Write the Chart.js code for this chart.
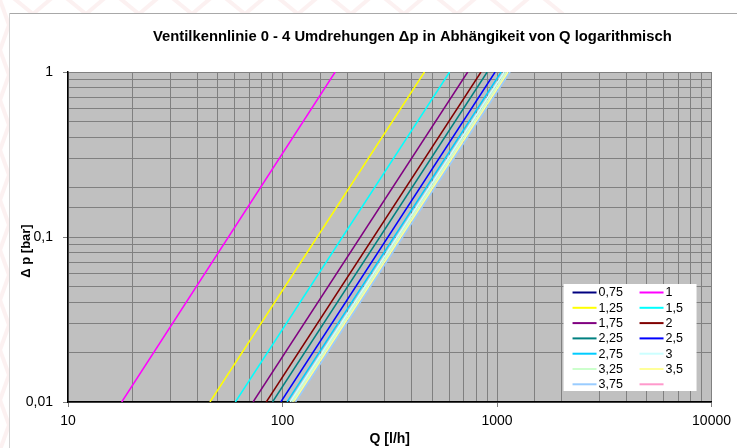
<!DOCTYPE html>
<html>
<head>
<meta charset="utf-8">
<script src="https://cdn.jsdelivr.net/npm/chart.js@4.4.1/dist/chart.umd.min.js"></script>
<style>
html, body { margin: 0; padding: 0; background: #fff; }
#wrap { position: relative; width: 737px; height: 448px; }
</style>
</head>
<body>
<div id="wrap"><canvas id="grafico"></canvas></div>
<script>
const umdrehungen = ['0,75', '1', '1,25', '1,5', '1,75', '2', '2,25', '2,5', '2,75', '3', '3,25', '3,5', '3,75', ''];
// Q [l/h] bei dp = 0,01 bar bzw. dp = 1 bar (null = nicht im Bild)
const qBei001 = [null, 17.8, 45.9, 60.3, 72.9, 84.0, 89.8, 98.2, 105, 108.5, 110.5, 112.5, 115, null];
const qBei1   = [null, 176, 459, 601, 730, 842, 900, 980, 1045, 1080, 1105, 1125, 1150, null];
const dpWerte = [0.01, 1];

const xTicks = [10, 100, 1000, 10000];
const xTickLabels = ['10', '100', '1000', '10000'];
const yTicks = [0.01, 0.1, 1];
const yTickLabels = ['0,01', '0,1', '1'];

const farben = ['#000080', '#FF00FF', '#FFFF00', '#00FFFF', '#800080', '#800000', '#008080',
                '#0000FF', '#00CCFF', '#CCFFFF', '#CCFFCC', '#FFFF99', '#99CCFF', '#FF99CC'];

const titel = 'Ventilkennlinie 0 - 4 Umdrehungen \u0394p in Abh\u00e4ngikeit von Q logarithmisch';
const yTitel = '\u0394 p [bar]';
const FONT = '"Liberation Sans", Arial, sans-serif';

function findeTick(liste, v) {
    return liste.findIndex(t => Math.abs(Math.log10(t) - Math.log10(v)) < 1e-6);
}

const datasets = umdrehungen.map((name, i) => ({
    label: name,
    data: qBei001[i] == null ? [] : [
        { x: qBei001[i], y: dpWerte[0] },
        { x: qBei1[i], y: dpWerte[1] }
    ],
    borderColor: farben[i],
    backgroundColor: farben[i],
    borderWidth: 1.5,
    pointRadius: 0,
    fill: false,
    tension: 0
}));

// Hintergrund, Rahmen, Titel und Legende
const rahmenPlugin = {
    id: 'rahmen',
    beforeDraw(chart) {
        const ctx = chart.ctx;
        const a = chart.chartArea;
        ctx.save();

        // blasses Muster am Rand
        ctx.strokeStyle = 'rgba(240,190,190,0.22)';
        ctx.lineWidth = 4;
        ctx.beginPath();
        for (let x0 = -20; x0 < 540; x0 += 53) {
            ctx.moveTo(x0, 14);
            ctx.lineTo(x0 + 26, -8);
            ctx.lineTo(x0 + 53, 14);
        }
        for (let y0 = 0; y0 < 448; y0 += 50) {
            ctx.moveTo(0, y0);
            ctx.lineTo(9, y0 + 25);
            ctx.lineTo(0, y0 + 50);
        }
        ctx.stroke();

        ctx.fillStyle = '#fff';
        ctx.fillRect(10, 14, 727, 434);
        ctx.lineWidth = 1;
        ctx.strokeStyle = '#A8A8A8';
        ctx.beginPath();
        ctx.moveTo(9, 13.5);
        ctx.lineTo(737, 13.5);
        ctx.stroke();
        ctx.strokeStyle = '#D2D2D2';
        ctx.beginPath();
        ctx.moveTo(9.5, 13);
        ctx.lineTo(9.5, 448);
        ctx.stroke();

        ctx.fillStyle = '#C0C0C0';
        ctx.fillRect(a.left, a.top, a.right - a.left, a.bottom - a.top);

        ctx.fillStyle = '#000';
        ctx.font = 'bold 14.8px ' + FONT;
        ctx.textAlign = 'left';
        ctx.textBaseline = 'middle';
        ctx.fillText(titel, 153, 37);

        ctx.font = 'bold 13px ' + FONT;
        ctx.translate(26, 251);
        ctx.rotate(-Math.PI / 2);
        ctx.textAlign = 'center';
        ctx.fillText(yTitel, 0, 0);
        ctx.restore();
    },
    afterDraw(chart) {
        const ctx = chart.ctx;
        const a = chart.chartArea;
        const bx = a.right - 148, by = a.bottom - 118;
        ctx.save();
        ctx.fillStyle = '#fff';
        ctx.fillRect(bx, by, 133, 107);
        ctx.font = '12.5px ' + FONT;
        ctx.textBaseline = 'middle';
        ctx.textAlign = 'left';
        chart.data.datasets.forEach((ds, i) => {
            const col = i % 2, row = Math.floor(i / 2);
            const lx = bx + 9 + col * 67;
            const ly = by + 8.5 + row * 15.3;
            ctx.strokeStyle = ds.borderColor;
            ctx.lineWidth = 2;
            ctx.beginPath();
            ctx.moveTo(lx, ly);
            ctx.lineTo(lx + 24, ly);
            ctx.stroke();
            ctx.fillStyle = '#000';
            ctx.fillText(ds.label, lx + 26, ly + 0.5);
        });
        ctx.restore();
    }
};

const gitterFarbe = '#808080';

new Chart(document.getElementById('grafico'), {
    type: 'line',
    data: { datasets: datasets },
    options: {
        responsive: true,
        maintainAspectRatio: false,
        animation: false,
        layout: { padding: { left: 0, right: 25, top: 72, bottom: 0 } },
        plugins: {
            legend: { display: false },
            title: { display: false },
            tooltip: { enabled: false }
        },
        scales: {
            x: {
                type: 'logarithmic',
                min: 10,
                max: 10000,
                afterFit: s => { s.height = 46; },
                ticks: {
                    autoSkip: false,
                    maxRotation: 0,
                    color: '#000',
                    padding: 6,
                    font: { family: FONT, size: 14 },
                    callback: v => {
                        const k = findeTick(xTicks, v);
                        return k >= 0 ? xTickLabels[k] : '';
                    }
                },
                grid: {
                    color: gitterFarbe,
                    lineWidth: 1,
                    tickLength: 5,
                    tickColor: c => (c.tick && findeTick(xTicks, c.tick.value) >= 0) ? '#808080' : 'rgba(0,0,0,0)'
                },
                border: { display: true, color: '#000', width: 1.5 },
                title: {
                    display: true,
                    text: 'Q [l/h]',
                    color: '#000',
                    font: { family: FONT, size: 14, weight: 'bold' },
                    padding: { top: 0, bottom: 0 }
                }
            },
            y: {
                type: 'logarithmic',
                min: 0.01,
                max: 1,
                afterFit: s => { s.width = 68; },
                ticks: {
                    autoSkip: false,
                    color: '#000',
                    padding: 10,
                    font: { family: FONT, size: 14 },
                    callback: v => {
                        const k = findeTick(yTicks, v);
                        return k >= 0 ? yTickLabels[k] : '';
                    }
                },
                grid: {
                    color: gitterFarbe,
                    lineWidth: 1,
                    tickLength: 5,
                    tickColor: c => (c.tick && findeTick(yTicks, c.tick.value) >= 0) ? '#808080' : 'rgba(0,0,0,0)'
                },
                border: { display: true, color: '#000', width: 1.5 }
            }
        }
    },
    plugins: [rahmenPlugin]
});
</script>
</body>
</html>
